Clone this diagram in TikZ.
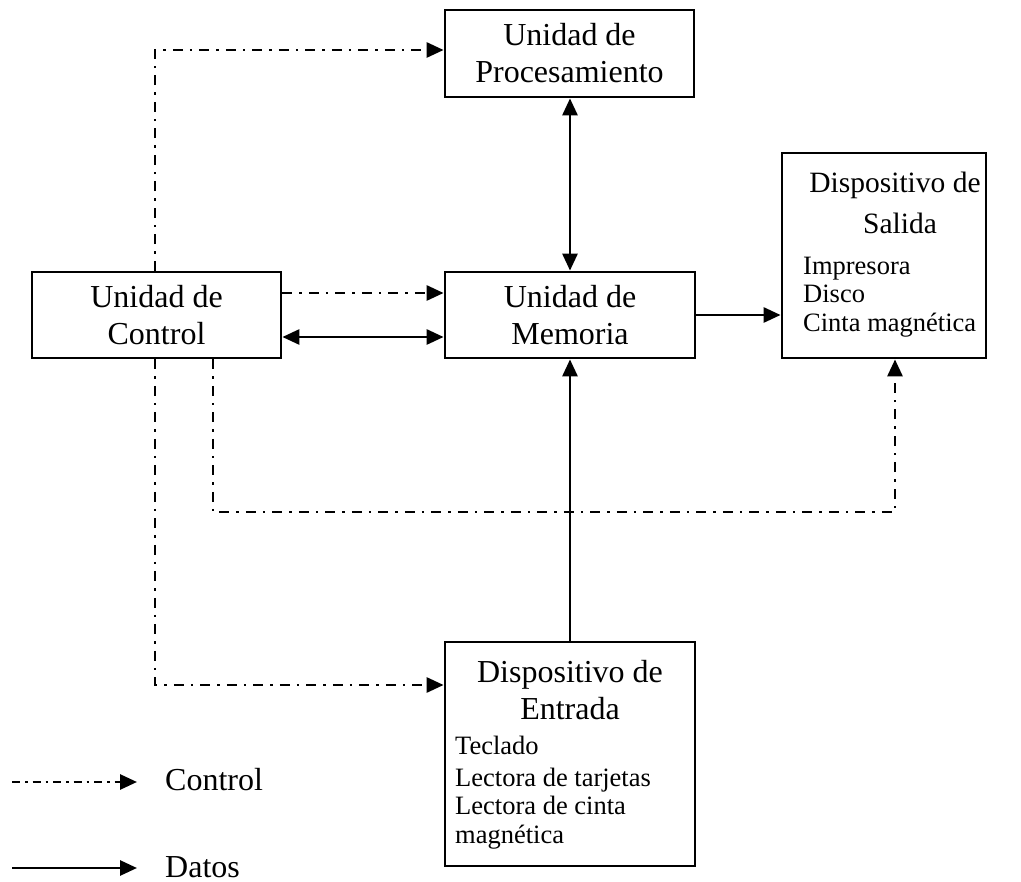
\documentclass[tikz,border=0pt]{standalone}
\usepackage{fontspec}
\setmainfont{Liberation Serif}
\usetikzlibrary{arrows.meta}
\newcommand\titlesize{\fontsize{32}{37}\selectfont}
\newcommand\saltitlesize{\fontsize{29.5}{37}\selectfont}
\newcommand\listsize{\fontsize{26.5}{28.5}\selectfont}
\begin{document}
\begin{tikzpicture}[x=1pt,y=-1pt,
  blk/.style={draw, line width=2.8pt, inner sep=0pt},
  ttl/.style={font=\titlesize, align=center, inner sep=0pt},
  lst/.style={font=\listsize, anchor=base west, inner sep=0pt},
  tip/.style={-{Triangle[length=17pt,width=15pt]}},
  tips/.style={{Triangle[length=17pt,width=15pt]}-{Triangle[length=17pt,width=15pt]}},
  data/.style={line width=2.8pt},
  ctl/.style={line width=2.8pt, dash pattern=on 10pt off 7pt on 2.5pt off 7pt},
]
\useasboundingbox (0,0) rectangle (1021,882);

% blocks
\node[blk, ttl, minimum width=249pt, minimum height=87pt] (proc) at (569.5,53.5) {Unidad de\\Procesamiento};
\node[blk, ttl, minimum width=250pt, minimum height=86pt] (mem) at (570,315) {Unidad de\\Memoria};
\node[blk, ttl, minimum width=249pt, minimum height=86pt] (ctrl) at (156.5,315) {Unidad de\\Control};
\node[blk, minimum width=204pt, minimum height=205pt] (sal) at (884,255.5) {};
\node[blk, minimum width=250pt, minimum height=224pt] (ent) at (570,754) {};

% output device text
\node[ttl, font=\saltitlesize, anchor=base] (salA) at (895,193) {Dispositivo de};
\node[ttl, font=\saltitlesize, anchor=base] (salB) at (900,234) {Salida};
\node[lst] (sal1) at (803,275) {Impresora};
\node[lst] (sal2) at (803,303) {Disco};
\node[lst] (sal3) at (803,332) {Cinta magnética};

% input device text
\node[ttl, anchor=base] (entA) at (570,682) {Dispositivo de};
\node[ttl, anchor=base] (entB) at (570,719) {Entrada};
\node[lst] (ent1) at (455,754) {Teclado};
\node[lst] (ent2) at (455,786) {Lectora de tarjetas};
\node[lst] (ent3) at (455,814) {Lectora de cinta};
\node[lst] (ent4) at (455,843) {magnética};

% routing points
\coordinate (k1) at (155,50);
\coordinate (k2) at (213,512);
\coordinate (k3) at (895,512);
\coordinate (k4) at (155,685);
\coordinate (r1) at (0,293);
\coordinate (r2) at (0,337);
\coordinate (r3) at (0,315);

% control lines
\draw[ctl, tip] (ctrl.north -| k1) -- (k1) -- (proc.west |- k1);
\draw[ctl, tip] (ctrl.east |- r1) -- (mem.west |- r1);
\draw[ctl, tip] (ctrl.south -| k2) -- (k2) -- (k3) -- (sal.south -| k3);
\draw[ctl, tip] (ctrl.south -| k4) -- (k4) -- (ent.west |- k4);

% data lines
\draw[data, tips] (ctrl.east |- r2) -- (mem.west |- r2);
\draw[data, tips] (proc.south -| mem.north) -- (mem.north);
\draw[data, tip] (mem.east |- r3) -- (sal.west |- r3);
\draw[data, tip] (ent.north) -- (mem.south);

% legend
\coordinate (lcA) at (12,782);
\coordinate (lcB) at (137,782);
\coordinate (ldA) at (12,868);
\coordinate (ldB) at (137,868);
\draw[ctl, dash pattern=on 8pt off 5pt on 2.5pt off 5pt, tip] (lcA) -- (lcB);
\draw[data, tip] (ldA) -- (ldB);
\node[font=\titlesize, anchor=base west, inner sep=0pt] (lcT) at (165,790) {Control};
\node[font=\titlesize, anchor=base west, inner sep=0pt] (ldT) at (165,877) {Datos};
\end{tikzpicture}
\end{document}
